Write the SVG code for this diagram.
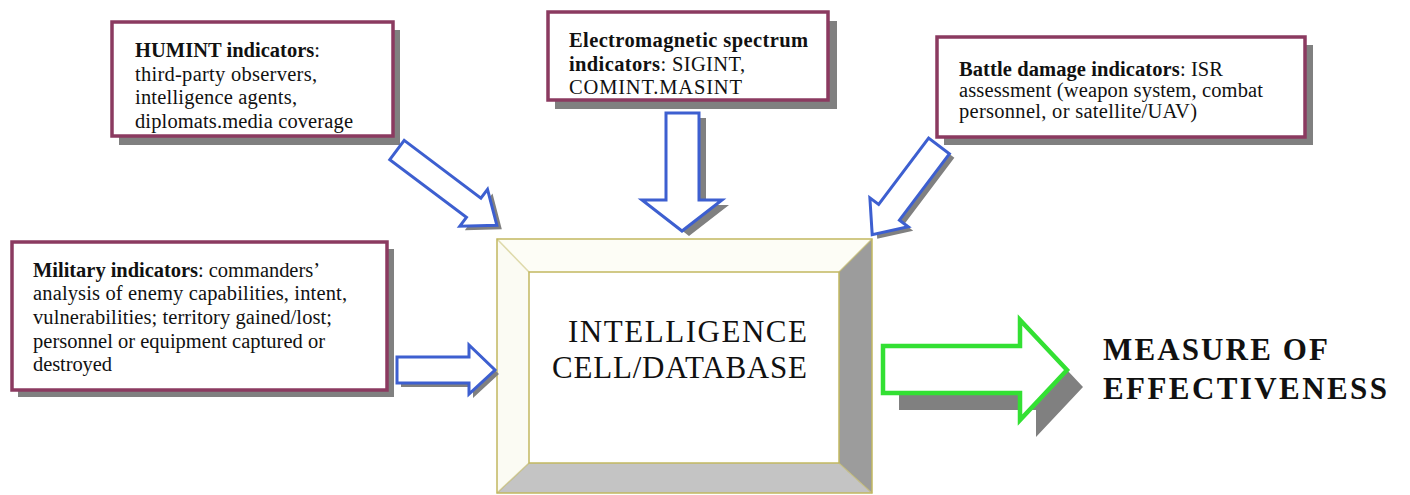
<svg xmlns="http://www.w3.org/2000/svg" width="1410" height="495" viewBox="0 0 1410 495">
<style>
.box{fill:#fff;stroke:#8b3a60;stroke-width:3.5}
.sh{fill:#808080}
.t{font-family:"Liberation Serif","Times New Roman",serif;font-size:20.5px;fill:#111}
.b{font-weight:bold}
.big{font-family:"Liberation Serif","Times New Roman",serif;font-size:31px;fill:#111}
.ar{fill:#fff;stroke:#3d5fd0;stroke-width:3;stroke-linejoin:miter}
.gr{fill:#fff;stroke:#33e033;stroke-width:4.5;stroke-linejoin:miter}
.edge{stroke:#c2b860;stroke-width:1.5}
</style>
<rect width="1410" height="495" fill="#fff"/>

<g id="humint">
<rect class="sh" x="119" y="30" width="281" height="115"/>
<rect class="box" x="112" y="22" width="281" height="114"/>
<text class="t" x="135" y="57" textLength="185" lengthAdjust="spacing"><tspan class="b">HUMINT indicators</tspan>:</text>
<text class="t" x="135" y="81" textLength="182" lengthAdjust="spacing">third-party observers,</text>
<text class="t" x="135" y="104" textLength="162" lengthAdjust="spacing">intelligence agents,</text>
<text class="t" x="135" y="128" textLength="218" lengthAdjust="spacing">diplomats.media coverage</text>
</g>

<g id="em">
<rect class="sh" x="555" y="21" width="282" height="88"/>
<rect class="box" x="548" y="12" width="280" height="88"/>
<text class="t" x="569" y="47" textLength="239" lengthAdjust="spacing"><tspan class="b">Electromagnetic spectrum</tspan></text>
<text class="t" x="569" y="71" textLength="176" lengthAdjust="spacing"><tspan class="b">indicators</tspan>: SIGINT,</text>
<text class="t" x="569" y="94" textLength="173" lengthAdjust="spacing">COMINT.MASINT</text>
</g>

<g id="battle">
<rect class="sh" x="944" y="45" width="369" height="100"/>
<rect class="box" x="937" y="37" width="368" height="100"/>
<text class="t" x="959" y="76" textLength="264" lengthAdjust="spacing"><tspan class="b">Battle damage indicators</tspan>: ISR</text>
<text class="t" x="959" y="97" textLength="304" lengthAdjust="spacing">assessment (weapon system, combat</text>
<text class="t" x="959" y="118" textLength="238" lengthAdjust="spacing">personnel, or satellite/UAV)</text>
</g>

<g id="military">
<rect class="sh" x="18" y="249" width="376" height="148"/>
<rect class="box" x="12" y="242" width="375" height="148"/>
<text class="t" x="33" y="277" textLength="287" lengthAdjust="spacing"><tspan class="b">Military indicators</tspan>: commanders’</text>
<text class="t" x="33" y="300" textLength="314" lengthAdjust="spacing">analysis of enemy capabilities, intent,</text>
<text class="t" x="33" y="324" textLength="299" lengthAdjust="spacing">vulnerabilities; territory gained/lost;</text>
<text class="t" x="33" y="348" textLength="292" lengthAdjust="spacing">personnel or equipment captured or</text>
<text class="t" x="33" y="371" textLength="79" lengthAdjust="spacing">destroyed</text>
</g>

<g id="intel">
<polygon points="497,239 872,239 839,272 529,272" fill="#fdfdf6"/>
<polygon points="497,239 529,272 529,463 497,493" fill="#fbfbf3"/>
<polygon points="872,239 872,493 839,463 839,272" fill="#9c9c9c"/>
<polygon points="497,493 872,493 839,463 529,463" fill="#c4c4c4"/>
<rect x="497" y="239" width="375" height="254" fill="none" class="edge"/>
<rect x="529" y="272" width="310" height="191" fill="#fff" class="edge"/>
<line x1="497" y1="239" x2="529" y2="272" class="edge" stroke-opacity="0.5"/>
<line x1="872" y1="239" x2="839" y2="272" class="edge" stroke-opacity="0.6"/>
<line x1="497" y1="493" x2="529" y2="463" class="edge" stroke-opacity="0.6"/>
<line x1="872" y1="493" x2="839" y2="463" class="edge" stroke-opacity="0.6"/>
<text class="big" x="807" y="342" text-anchor="end" textLength="239" lengthAdjust="spacing">INTELLIGENCE</text>
<text class="big" x="807" y="378" text-anchor="end" textLength="255" lengthAdjust="spacing">CELL/DATABASE</text>
</g>

<g id="moe">
<text class="big b" x="1103" y="360" font-size="33" textLength="225" lengthAdjust="spacing">MEASURE OF</text>
<text class="big b" x="1103" y="399" font-size="33" textLength="284" lengthAdjust="spacing">EFFECTIVENESS</text>
</g>

<g id="connectors">
<path class="sh" transform="translate(402,154) rotate(37)" d="M0,-12 H96 V-23 L125,0 L96,23 V12 H0 Z"/>
<path class="ar" transform="translate(397,150) rotate(37)" d="M0,-12 H96 V-23 L125,0 L96,23 V12 H0 Z"/>
<path class="sh" transform="translate(944,150) rotate(127)" d="M0,-13 H83 V-24 L111,0 L83,24 V13 H0 Z"/>
<path class="ar" transform="translate(939,146) rotate(127)" d="M0,-13 H83 V-24 L111,0 L83,24 V13 H0 Z"/>
<path class="sh" transform="translate(7,5)" d="M666,113 H699 V200 H722 L682,231 L642,200 H666 Z"/>
<path class="ar" d="M666,113 H699 V200 H722 L682,231 L642,200 H666 Z"/>
<path class="sh" transform="translate(4,4)" d="M397,357 H469 V345 L495,370 L469,394 V383 H397 Z"/>
<path class="ar" d="M397,357 H469 V345 L495,370 L469,394 V383 H397 Z"/>
<path class="sh" transform="translate(16,17)" d="M883,346 H1020 V320 L1067,370 L1020,420 V393 H883 Z"/>
<path class="gr" d="M883,346 H1020 V320 L1067,370 L1020,420 V393 H883 Z"/>
</g>
</svg>
